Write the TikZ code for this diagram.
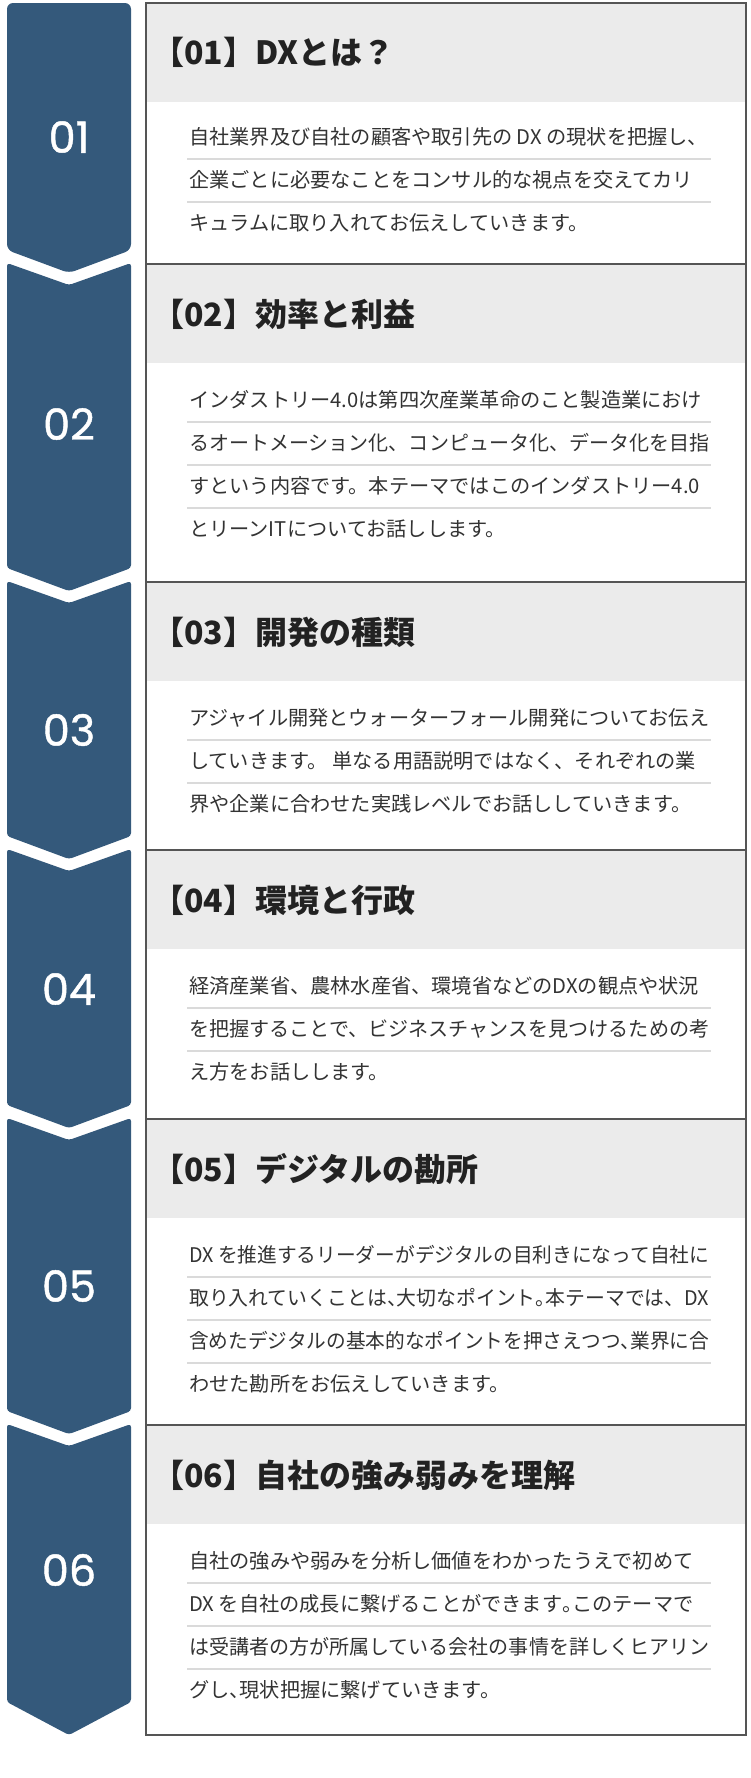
\documentclass[tikz,border=0pt]{standalone}
\usepackage{fontspec}
\usepackage{graphicx}
\setmainfont{Noto Sans CJK JP}
\newfontfamily\numfont[FakeBold=1]{Poppins}
\definecolor{chev}{HTML}{34597B}
\definecolor{hdr}{HTML}{EBEBEB}
\definecolor{bord}{HTML}{555555}
\definecolor{sepc}{HTML}{DADADA}
\definecolor{txt}{HTML}{333333}
\definecolor{ttlc}{HTML}{222222}
\newcommand\hh[1]{{\addfontfeature{RawFeature=+halt}#1}}
\newcommand\ttl[2]{【#1】#2}
\newsavebox\linebox
\newcommand\fitline[1]{\sbox\linebox{#1}\ifdim\wd\linebox>520pt\resizebox{520pt}{\height}{\usebox\linebox}\else\usebox\linebox\fi}
\begin{document}
\begin{tikzpicture}[x=1pt,y=-1pt,
  chevron/.style={fill=chev, rounded corners=3pt},
  boxframe/.style={draw=bord, line width=1.6pt, minimum width=600pt, anchor=north west, inner sep=0pt},
  header/.style={fill=hdr, minimum width=600pt, minimum height=100pt, anchor=north west, inner sep=0pt},
  sepline/.style={draw=sepc, line width=2pt},
  title/.style={anchor=west, font=\fontsize{32}{35}\selectfont\bfseries, text=ttlc, inner sep=0pt},
  body/.style={anchor=west, font=\fontsize{20.2}{24}\selectfont, text=txt, inner sep=0pt},
  num/.style={font=\numfont\fontsize{43}{46}\selectfont, text=white, inner sep=0pt}]
\useasboundingbox[fill=white] (0,0) rectangle (750,1778);

% chevrons
\fill[chevron, rounded corners=6pt] (7,3) -- (131,3) -- (131,250) -- (69,273) -- (7,250) -- cycle;
\fill[chevron] (7,263) -- (69,285) -- (131,263) -- (131,568) -- (69,591) -- (7,568) -- cycle;
\fill[chevron] (7,581) -- (69,603) -- (131,581) -- (131,836) -- (69,859) -- (7,836) -- cycle;
\fill[chevron] (7,849) -- (69,871) -- (131,849) -- (131,1105) -- (69,1128) -- (7,1105) -- cycle;
\fill[chevron] (7,1118) -- (69,1140) -- (131,1118) -- (131,1411) -- (69,1434) -- (7,1411) -- cycle;
\fill[chevron] (7,1424) -- (69,1446) -- (131,1424) -- (131,1702) -- (69,1735) -- (7,1702) -- cycle;

\node[num] (n1) at (69,137) {01};
\node[num] (n2) at (69,424) {02};
\node[num] (n3) at (69,730) {03};
\node[num] (n4) at (69,989) {04};
\node[num] (n5) at (69,1286) {05};
\node[num] (n6) at (69,1570) {06};

% box 1
\node[header] (h1) at (145,2) {};
\node[boxframe, minimum height=261pt] (box1) at (145,2) {};
\node[title] (t1) at (152,52) {\ttl{01}{DXとは？}};
\draw[sepline] (187,158.5) -- (711,158.5);
\draw[sepline] (187,201.5) -- (711,201.5);
\node[body] (b1a) at (189,137) {\fitline{自社業界及び自社の顧客や取引先の DX の現状を把握し、}};
\node[body] (b1b) at (189,180) {\fitline{企業ごとに必要なことをコンサル的な視点を交えてカリ}};
\node[body] (b1c) at (189,223) {\fitline{キュラムに取り入れてお伝えしていきます。}};

% box 2
\node[header] (h2) at (145,263) {};
\node[boxframe, minimum height=318pt] (box2) at (145,263) {};
\node[title] (t2) at (152,314) {\ttl{02}{効率と利益}};
\draw[sepline] (187,421.5) -- (711,421.5);
\draw[sepline] (187,464.5) -- (711,464.5);
\draw[sepline] (187,507.5) -- (711,507.5);
\node[body] (b2a) at (189,400) {\fitline{インダストリー4.0は第四次産業革命のこと製造業におけ}};
\node[body] (b2b) at (189,443) {\fitline{るオートメーション化、コンピュータ化、データ化を目指}};
\node[body] (b2c) at (189,486) {\fitline{すという内容です。本テーマではこのインダストリー4.0}};
\node[body] (b2d) at (189,529) {\fitline{とリーンITについてお話しします。}};

% box 3
\node[header] (h3) at (145,581) {};
\node[boxframe, minimum height=268pt] (box3) at (145,581) {};
\node[title] (t3) at (152,632) {\ttl{03}{開発の種類}};
\draw[sepline] (187,739.5) -- (711,739.5);
\draw[sepline] (187,782.5) -- (711,782.5);
\node[body] (b3a) at (189,718) {\fitline{アジャイル開発とウォーターフォール開発についてお伝え}};
\node[body] (b3b) at (189,761) {\fitline{していきます。 単なる用語説明ではなく、それぞれの業}};
\node[body] (b3c) at (189,804) {\fitline{界や企業に合わせた実践レベルでお話ししていきます。}};

% box 4
\node[header] (h4) at (145,849) {};
\node[boxframe, minimum height=269pt] (box4) at (145,849) {};
\node[title] (t4) at (152,900) {\ttl{04}{環境と行政}};
\draw[sepline] (187,1007.5) -- (711,1007.5);
\draw[sepline] (187,1050.5) -- (711,1050.5);
\node[body] (b4a) at (189,986) {\fitline{経済産業省、農林水産省、環境省などのDXの観点や状況}};
\node[body] (b4b) at (189,1029) {\fitline{を把握することで、ビジネスチャンスを見つけるための考}};
\node[body] (b4c) at (189,1072) {\fitline{え方をお話しします。}};

% box 5
\node[header] (h5) at (145,1118) {};
\node[boxframe, minimum height=306pt] (box5) at (145,1118) {};
\node[title] (t5) at (152,1169) {\ttl{05}{デジタルの勘所}};
\draw[sepline] (187,1276.5) -- (711,1276.5);
\draw[sepline] (187,1319.5) -- (711,1319.5);
\draw[sepline] (187,1362.5) -- (711,1362.5);
\node[body] (b5a) at (189,1255) {\fitline{DX を推進するリーダーがデジタルの目利きになって自社に}};
\node[body] (b5b) at (189,1298) {\fitline{取り入れていくことは\hh{、}大切なポイント\hh{。}本テーマでは、DX}};
\node[body] (b5c) at (189,1341) {\fitline{含めたデジタルの基本的なポイントを押さえつつ\hh{、}業界に合}};
\node[body] (b5d) at (189,1384) {\fitline{わせた勘所をお伝えしていきます。}};

% box 6
\node[header] (h6) at (145,1424) {};
\node[boxframe, minimum height=310pt] (box6) at (145,1424) {};
\node[title] (t6) at (152,1475) {\ttl{06}{自社の強み弱みを理解}};
\draw[sepline] (187,1582.5) -- (711,1582.5);
\draw[sepline] (187,1625.5) -- (711,1625.5);
\draw[sepline] (187,1668.5) -- (711,1668.5);
\node[body] (b6a) at (189,1561) {\fitline{自社の強みや弱みを分析し価値をわかったうえで初めて}};
\node[body] (b6b) at (189,1604) {\fitline{DX を自社の成長に繋げることができます\hh{。}このテーマで}};
\node[body] (b6c) at (189,1647) {\fitline{は受講者の方が所属している会社の事情を詳しくヒアリン}};
\node[body] (b6d) at (189,1690) {\fitline{グし\hh{、}現状把握に繋げていきます。}};
\end{tikzpicture}
\end{document}
